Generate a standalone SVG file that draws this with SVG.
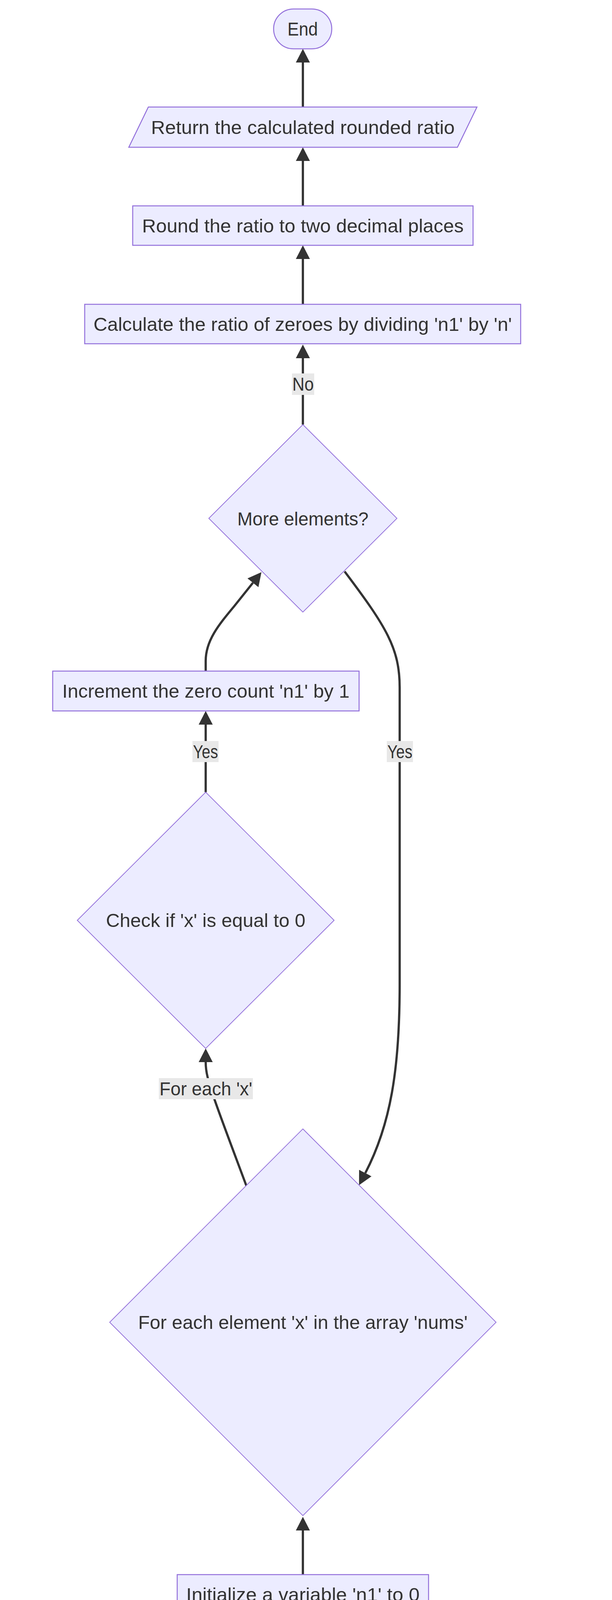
<svg xmlns="http://www.w3.org/2000/svg" width="1568" height="4962" viewBox="0 0 1568 4962">
<style>
.node rect,.node polygon,.node path{fill:#ECECFF;stroke:#9370DB;stroke-width:2.5}
.node polygon.dia{stroke-width:1.9}
text{font-family:"Liberation Sans",Arial,sans-serif;fill:#333333;text-anchor:middle}
.nt{font-size:49px}
.lt{font-size:48px}
.edge{fill:none;stroke:#333333;stroke-width:5.7}
.lbl{fill:#e8e8e8}
</style>
<defs>
<marker id="ah" markerUnits="userSpaceOnUse" markerWidth="35" markerHeight="36" viewBox="0 0 35 36" refX="0" refY="18" orient="auto">
<path d="M0,0 L35,18 L0,36 z" fill="#333333"/>
</marker>
</defs>
<rect width="1568" height="4962" fill="#ffffff"/>
<g id="edges">
<path class="edge" marker-end="url(#ah)" d="M776,4786 L776,4673"/>
<path class="edge" marker-end="url(#ah)" d="M776,4534 L776,4419"/>
<path class="edge" marker-end="url(#ah)" d="M776,4282 L776,4168"/>
<path class="edge" marker-end="url(#ah)" d="M776,4031 L776,3918"/>
<path class="edge" marker-end="url(#ah)" d="M631,3035 C605,2965 565,2860 548,2810 C533,2765 527,2745 527,2719"/>
<path class="edge" marker-end="url(#ah)" d="M527,2028 L527,1855"/>
<path class="edge" marker-end="url(#ah)" d="M527,1718 L527,1692 C527,1640 560,1600 600,1552 L648,1492"/>
<path class="edge" marker-end="url(#ah)" d="M776,1087 L776,917"/>
<path class="edge" marker-end="url(#ah)" d="M776,779 L776,663"/>
<path class="edge" marker-end="url(#ah)" d="M776,527 L776,412"/>
<path class="edge" marker-end="url(#ah)" d="M776,274 L776,160"/>
<path class="edge" marker-end="url(#ah)" d="M883,1463 C990,1605 1024,1660 1024,1760 L1024,2520 C1024,2740 1000,2880 936,3003"/>
</g>
<g id="edge-labels">
<g id="label-no"><rect class="lbl" x="748" y="956" width="57" height="55"/><text class="lt" x="776.5" y="1000" textLength="55" lengthAdjust="spacingAndGlyphs">No</text></g>
<g id="label-yes1"><rect class="lbl" x="493" y="1897" width="67" height="54"/><text class="lt" x="526.5" y="1941" textLength="64" lengthAdjust="spacingAndGlyphs">Yes</text></g>
<g id="label-yes2"><rect class="lbl" x="991" y="1897" width="67" height="54"/><text class="lt" x="1024.5" y="1941" textLength="64" lengthAdjust="spacingAndGlyphs">Yes</text></g>
<g id="label-foreach"><rect class="lbl" x="407" y="2760" width="241" height="54"/><text class="lt" x="527.5" y="2804" textLength="238" lengthAdjust="spacingAndGlyphs">For each 'x'</text></g>
</g>
<g id="End" class="node"><rect x="701" y="23" width="149" height="102" rx="51" ry="51"/><text class="nt" x="775.5" y="91" textLength="78" lengthAdjust="spacingAndGlyphs">End</text></g>
<g id="Return" class="node"><polygon points="380,274 1222,274 1172,377 330,377"/><text class="nt" x="776" y="343" textLength="778" lengthAdjust="spacingAndGlyphs">Return the calculated rounded ratio</text></g>
<g id="Round" class="node"><rect x="340" y="527" width="872" height="101"/><text class="nt" x="776" y="595" textLength="824" lengthAdjust="spacingAndGlyphs">Round the ratio to two decimal places</text></g>
<g id="CalcRatio" class="node"><rect x="217" y="779" width="1117" height="101"/><text class="nt" x="775.5" y="847" textLength="1072" lengthAdjust="spacingAndGlyphs">Calculate the ratio of zeroes by dividing 'n1' by 'n'</text></g>
<g id="More" class="node"><polygon class="dia" points="776,1087 1017,1327 776,1567 535,1327"/><text class="nt" x="776" y="1345" textLength="336" lengthAdjust="spacingAndGlyphs">More elements?</text></g>
<g id="Increment" class="node"><rect x="135" y="1718" width="785" height="102"/><text class="nt" x="527.5" y="1786" textLength="736" lengthAdjust="spacingAndGlyphs">Increment the zero count 'n1' by 1</text></g>
<g id="Check" class="node"><polygon class="dia" points="527,2028 856,2356 527,2684 198,2356"/><text class="nt" x="527" y="2373" textLength="511" lengthAdjust="spacingAndGlyphs">Check if 'x' is equal to 0</text></g>
<g id="ForEach" class="node"><polygon class="dia" points="776,2890 1271,3385 776,3880 281,3385"/><text class="nt" x="776" y="3402" textLength="844" lengthAdjust="spacingAndGlyphs">For each element 'x' in the array 'nums'</text></g>
<g id="Init" class="node"><rect x="454" y="4031" width="644" height="101"/><text class="nt" x="776" y="4099" textLength="598" lengthAdjust="spacingAndGlyphs">Initialize a variable 'n1' to 0</text></g>
<g id="CalcLen" class="node"><rect x="23" y="4282" width="1505" height="101"/><text class="nt" x="775.5" y="4350" textLength="1458" lengthAdjust="spacingAndGlyphs">Calculate the length of the array 'nums' and store it in a variable 'n'</text></g>
<g id="Receive" class="node"><polygon points="322,4534 1278,4534 1228,4635 272,4635"/><text class="nt" x="776" y="4602" textLength="893" lengthAdjust="spacingAndGlyphs">Receive an array of integers called 'nums'</text></g>
<g id="Start" class="node"><rect x="687" y="4786" width="177" height="101" rx="50.5" ry="50.5"/><text class="nt" x="775.5" y="4854" textLength="105" lengthAdjust="spacingAndGlyphs">Start</text></g>
</svg>
